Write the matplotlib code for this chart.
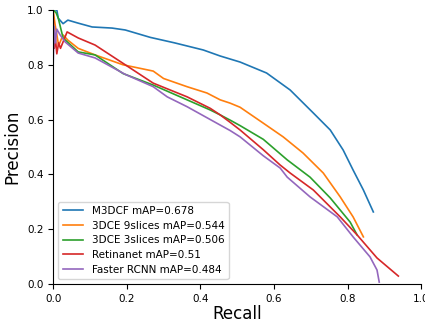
import numpy as np
import matplotlib
matplotlib.use("Agg")
import matplotlib.pyplot as plt

# recall / precision points
m3dcf_r = [0.0, 0.01, 0.014, 0.027, 0.04, 0.068, 0.106, 0.16, 0.196, 0.264, 0.33, 0.408,
           0.454, 0.508, 0.58, 0.644, 0.707, 0.753, 0.788, 0.815, 0.843, 0.87]
m3dcf_p = [1.0, 1.0, 0.97, 0.95, 0.963, 0.952, 0.938, 0.934, 0.927, 0.90, 0.88, 0.854,
           0.832, 0.81, 0.77, 0.708, 0.624, 0.562, 0.489, 0.416, 0.343, 0.263]

dce9_r = [0.0, 0.005, 0.015, 0.027, 0.04, 0.068, 0.114, 0.19, 0.272, 0.30, 0.364, 0.418,
          0.454, 0.481, 0.508, 0.571, 0.625, 0.679, 0.734, 0.78, 0.815, 0.843]
dce9_p = [1.0, 0.95, 0.87, 0.909, 0.89, 0.86, 0.836, 0.80, 0.777, 0.75, 0.72, 0.697,
          0.672, 0.66, 0.645, 0.587, 0.537, 0.478, 0.405, 0.318, 0.245, 0.172]

dce3_r = [0.0, 0.008, 0.014, 0.027, 0.068, 0.114, 0.19, 0.272, 0.364, 0.427, 0.454, 0.481,
          0.508, 0.571, 0.636, 0.698, 0.753, 0.807, 0.826]
dce3_p = [1.0, 0.99, 0.97, 0.898, 0.847, 0.836, 0.768, 0.726, 0.672, 0.635, 0.617, 0.598,
          0.578, 0.528, 0.453, 0.39, 0.314, 0.226, 0.179]

retina_r = [0.0, 0.003, 0.006, 0.01, 0.015, 0.02, 0.038, 0.068, 0.114, 0.196, 0.272, 0.364,
            0.427, 0.454, 0.481, 0.508, 0.571, 0.617, 0.644, 0.707, 0.78, 0.826, 0.88, 0.938]
retina_p = [1.0, 0.86, 0.9, 0.84, 0.88, 0.86, 0.92, 0.898, 0.872, 0.80, 0.733, 0.683,
            0.641, 0.617, 0.59, 0.562, 0.49, 0.434, 0.405, 0.343, 0.245, 0.179, 0.095, 0.029]

frcnn_r = [0.0, 0.003, 0.006, 0.01, 0.019, 0.033, 0.068, 0.114, 0.196, 0.272, 0.31, 0.364,
           0.454, 0.481, 0.508, 0.571, 0.617, 0.636, 0.698, 0.772, 0.815, 0.861, 0.88, 0.886]
frcnn_p = [0.8, 0.94, 0.88, 0.93, 0.909, 0.883, 0.843, 0.825, 0.765, 0.72, 0.683, 0.647,
           0.58, 0.56, 0.537, 0.468, 0.423, 0.39, 0.318, 0.245, 0.172, 0.099, 0.051, 0.007]

labels = ["M3DCF mAP=0.678", "3DCE 9slices mAP=0.544", "3DCE 3slices mAP=0.506",
          "Retinanet mAP=0.51", "Faster RCNN mAP=0.484"]

fig = plt.figure(figsize=(4.25, 3.22), dpi=100)
ax = fig.add_axes([0.125, 0.118, 0.866, 0.851])

curves = [(m3dcf_r, m3dcf_p), (dce9_r, dce9_p), (dce3_r, dce3_p),
          (retina_r, retina_p), (frcnn_r, frcnn_p)]
for (r, p), lab in zip(curves, labels):
    ax.plot(r, p, lw=1.2, label=lab)

ax.set_xlim(0, 1)
ax.set_ylim(0, 1)
ax.set_xticks(np.arange(0, 1.01, 0.2))
ax.set_yticks(np.arange(0, 1.01, 0.2))
ax.tick_params(labelsize=7.5)
ax.spines["top"].set_visible(False)
ax.spines["right"].set_visible(False)
ax.set_xlabel("Recall", fontsize=12, labelpad=1)
ax.set_ylabel("Precision", fontsize=12)
ax.legend(loc="lower left", fontsize=7.5, handlelength=2.0, borderaxespad=0.5,
          labelspacing=0.45)

fig.savefig("out.png", dpi=100)
